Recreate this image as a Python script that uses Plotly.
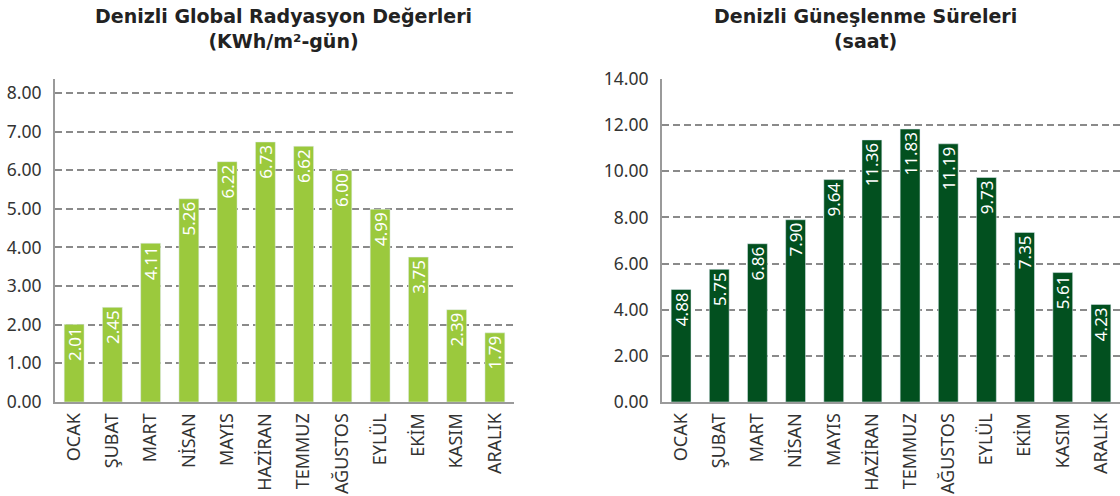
import plotly.graph_objects as go

months = ["OCAK", "ŞUBAT", "MART", "NİSAN", "MAYIS", "HAZİRAN", "TEMMUZ",
          "AĞUSTOS", "EYLÜL", "EKİM", "KASIM", "ARALIK"]
radiation = [2.01, 2.45, 4.11, 5.26, 6.22, 6.73, 6.62, 6.00, 4.99, 3.75, 2.39, 1.79]
sunshine = [4.88, 5.75, 6.86, 7.90, 9.64, 11.36, 11.83, 11.19, 9.73, 7.35, 5.61, 4.23]

left_ticks = [0, 1, 2, 3, 4, 5, 6, 7, 8]
right_ticks = [0, 2, 4, 6, 8, 10, 12, 14]

FONT = "Noto Sans"
TXT = "#333333"
GRID = "#8a8a8a"
AXIS = "#9a9a9a"

fig = go.Figure()
fig.add_trace(go.Bar(x=months, y=radiation, marker_color="#9BC93D", xaxis="x", yaxis="y",
                     texttemplate="%{y:.2f}", textposition="inside", textangle=-90,
                     insidetextanchor="end", constraintext="none",
                     insidetextfont=dict(color="white", size=17, family=FONT)))
fig.add_trace(go.Bar(x=months, y=sunshine, marker_color="#02501F", xaxis="x2", yaxis="y2",
                     texttemplate="%{y:.2f}", textposition="inside", textangle=-90,
                     insidetextanchor="end", constraintext="none",
                     insidetextfont=dict(color="white", size=17, family=FONT)))

ydom = [(496 - 402) / 496, (496 - 79) / 496]
common_x = dict(showline=True, linecolor=AXIS, linewidth=2, ticks="", tickangle=-90,
                tickfont=dict(size=18, color=TXT, family=FONT), showgrid=False,
                automargin=False, ticklabelstandoff=2)
common_y = dict(showline=True, linecolor=AXIS, linewidth=2, showgrid=True, gridcolor=GRID,
                gridwidth=2, griddash="7px,4px", zeroline=False, tickformat=".2f",
                tickfont=dict(size=17.5, color=TXT, family=FONT), ticks="",
                automargin=False, ticklabelstandoff=8)

fig.update_layout(
    width=1120, height=496, margin=dict(l=0, r=0, t=0, b=0, autoexpand=False),
    paper_bgcolor="white", plot_bgcolor="white", showlegend=False, bargap=0.48,
    font=dict(family=FONT, color=TXT),
    xaxis=dict(domain=[55 / 1120, 514 / 1120], anchor="y", **common_x),
    yaxis=dict(domain=ydom, anchor="x", range=[0, 8.36], tickvals=left_ticks, **common_y),
    xaxis2=dict(domain=[662 / 1120, 1.0], anchor="y2", **common_x),
    yaxis2=dict(domain=ydom, anchor="x2", range=[0, 14], tickvals=right_ticks, **common_y),
    annotations=[
        dict(text="<b>Denizli Global Radyasyon Değerleri</b><br><b>(KWh/m²-gün)</b>",
             x=283 / 1120, y=1 - 3 / 496, xref="paper", yref="paper", xanchor="center",
             yanchor="top", showarrow=False,
             font=dict(size=19, color="#222222", family="DejaVu Sans")),
        dict(text="<b>Denizli Güneşlenme Süreleri</b><br><b>(saat)</b>",
             x=865 / 1120, y=1 - 3 / 496, xref="paper", yref="paper", xanchor="center",
             yanchor="top", showarrow=False,
             font=dict(size=19, color="#222222", family="DejaVu Sans")),
    ],
)
fig.write_html("out.html", config={"displayModeBar": False},
               post_script="document.body.style.margin='0';document.body.style.overflow='hidden';")
